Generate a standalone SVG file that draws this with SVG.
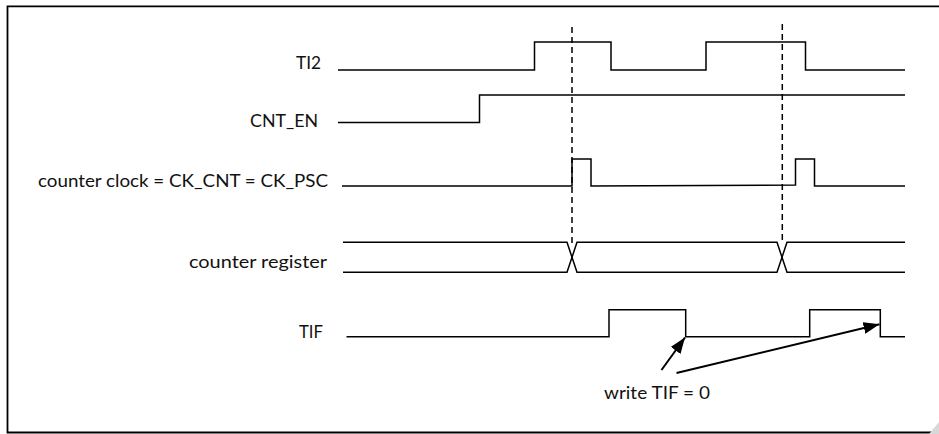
<svg xmlns="http://www.w3.org/2000/svg" width="939" height="434" viewBox="0 0 939 434">
<style>
  .lbl { font-family: Lato, "Open Sans", "Liberation Sans", sans-serif; font-size: 17px; fill: #111; }
  .wave { fill: none; stroke: #000; stroke-width: 1.5; stroke-linejoin: miter; }
  .dash { fill: none; stroke: #000; stroke-width: 1.5; stroke-dasharray: 6 4; }
  .arr { fill: none; stroke: #000; stroke-width: 2; }
</style>
<defs>
  <marker id="ah" viewBox="0 0 16 12" refX="16" refY="6" markerWidth="16" markerHeight="12" markerUnits="userSpaceOnUse" orient="auto">
    <path d="M0,0 L16,6 L0,12 Z" fill="#000"/>
  </marker>
</defs>
<rect x="0" y="0" width="939" height="434" fill="#fff"/>
<path d="M945,6.3 H7.5 V432.5 H945" fill="none" stroke="#000" stroke-width="1.8"/>
<polygon points="929,434 939,422 939,434" fill="#d8d8d8"/>

<g id="ti2">
  <text class="lbl" x="321" y="69" text-anchor="end" textLength="25" lengthAdjust="spacingAndGlyphs">TI2</text>
  <path class="wave" d="M338,70 H534.5 V42 H611 V70 H706 V42 H805.5 V70 H905"/>
</g>
<g id="cnt_en">
  <text class="lbl" x="318" y="126.5" text-anchor="end" textLength="68" lengthAdjust="spacingAndGlyphs">CNT_EN</text>
  <path class="wave" d="M338,122.5 H479.5 V95 H905"/>
</g>
<g id="ck_cnt">
  <text class="lbl" x="328" y="186.5" text-anchor="end" textLength="290" lengthAdjust="spacingAndGlyphs">counter clock = CK_CNT = CK_PSC</text>
  <path class="wave" d="M342,186 H572 V159 H591 V186 L795.5,185 V159 H814.5 V186 H905"/>
</g>
<g id="counter_register">
  <text class="lbl" x="327" y="268" text-anchor="end" textLength="138" lengthAdjust="spacingAndGlyphs">counter register</text>
  <path class="wave" d="M343,242.3 H567 L577,272.3 H777 L787,242.3 H905"/>
  <path class="wave" d="M343,272.3 H567 L577,242.3 H777 L787,272.3 H905"/>
</g>
<g id="tif">
  <text class="lbl" x="323" y="338" text-anchor="end" textLength="24" lengthAdjust="spacingAndGlyphs">TIF</text>
  <path class="wave" d="M346.5,336.7 H609 V309.7 H685.7 V336.7 H809.7 V309.7 H880.3 V336.7 H905"/>
</g>
<g id="write_tif">
  <text class="lbl" x="604" y="399" textLength="106" lengthAdjust="spacingAndGlyphs">write TIF = 0</text>
</g>

<g id="connectors">
  <line class="dash" x1="572" y1="27" x2="572" y2="244"/>
  <line class="dash" x1="782.3" y1="24" x2="782.3" y2="244"/>
  <line class="arr" x1="661.5" y1="370" x2="685" y2="337.5" marker-end="url(#ah)"/>
  <line class="arr" x1="676.5" y1="373" x2="879.5" y2="324.3" marker-end="url(#ah)"/>
</g>
</svg>
